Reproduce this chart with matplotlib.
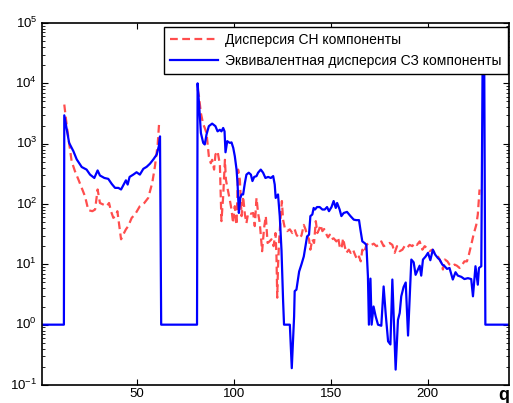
import numpy as np
import matplotlib
matplotlib.use('Agg')
import matplotlib.pyplot as plt
from matplotlib.ticker import LogLocator, FixedLocator, NullFormatter

# blue: equivalent dispersion (C3 component)
blue_q = [1, 12.3, 12.5, 13.8, 15, 17.2, 18.9, 21.5, 24, 25.8, 28, 29.7, 30.9, 33.2,
          35.2, 37, 38.7, 40.4, 41.8, 42.9, 44.3, 45.2, 46.2, 48.1, 49.8, 51.5, 53.3,
          55, 56.7, 58.4, 60.2, 61.3, 61.9, 62.5, 81.0, 81.3, 82, 83, 84.2, 85, 85.9,
          87.1, 88.8, 90.5, 91.6, 92.8, 93.6, 94.5, 95.2, 95.7, 96.6, 97.9, 98.8, 99.7,
          100.5, 101.4, 101.9, 102.6, 103.3, 104, 104.8, 105.7, 106.5, 107.7, 108.8,
          109.6, 110.5, 111.7, 112.5, 113.9, 115.1, 116.3, 117.7, 119.1, 120.3, 121.1,
          121.6, 122.8, 123.7, 124.6, 125.4, 125.9, 128.9, 129.9, 131.1, 131.4, 132.3,
          133.7, 134.9, 136.1, 137.1, 137.8, 138.8, 139.5, 140.5, 141.2, 141.9, 142.9,
          144.3, 145.7, 146.9, 148.1, 149.1, 150.4, 151.5, 152.6, 153.3, 154.6, 155.5,
          156.7, 158.4, 160.2, 161.9, 163.2, 164.6, 165.3, 166.3, 167.5, 168.4, 169.2,
          169.7, 170.5, 171.1, 172.1, 173.2, 174.4, 176.1, 177.3, 178.4, 179.6, 180.8,
          181.8, 182.6, 183.5, 184.7, 185.6, 186.4, 187.6, 188.7, 189.9, 190.7, 191.6,
          192.8, 193.8, 195, 195.9, 196.7, 197.6, 199, 200.2, 201.4, 202.7, 203.9,
          205.3, 206.2, 207.6, 208.8, 210, 211.3, 213, 214.4, 215.6, 217.4, 219, 220.8,
          222.5, 223.4, 224.7, 225.9, 226.5, 227.7, 228.4, 229.2, 229.8, 242]
blue_v = [1, 1, 2950, 1700, 1030, 750, 550, 410, 372, 307, 270, 360, 297, 270,
          261, 215, 185, 185, 174, 203, 247, 210, 281, 307, 336, 307, 383,
          413, 465, 545, 660, 910, 1320, 1, 1, 10000, 4800, 1500, 1030, 970, 1420,
          1950, 2150, 1950, 1600, 1700, 1600, 1820, 1600, 720, 1100, 1030, 1050, 850,
          620, 372, 224, 71, 126, 144, 144, 224, 307, 330, 307,
          240, 281, 290, 330, 372, 330, 270, 281, 270, 290, 210,
          126, 144, 63, 17, 2.6, 1, 1, 0.19, 1.37, 3.6, 3.8,
          7.6, 10, 13.5, 21, 29, 31, 63, 67, 86, 81, 89,
          89, 81, 81, 89, 76, 89, 112, 86, 104, 81, 63,
          71, 74, 63, 55, 54, 54, 38, 24, 22.5, 21, 6.3,
          1, 5.8, 1, 2, 1.37, 1, 0.96, 4.3, 1.46, 0.53, 0.47,
          5.6, 1.07, 0.18, 1.2, 1.56, 2.95, 4.2, 5, 0.66, 2.6, 12,
          10.8, 6.7, 8.2, 9.5, 6.5, 12, 13.5, 15.5, 11.7, 17.5, 14.5,
          12.7, 12, 9.9, 9.3, 8.4, 8.7, 5.6, 7.4, 6.5, 6.2, 5.7, 5.9,
          5.7, 2.95, 9.3, 4.6, 8.7, 9.3, 30000, 30000, 1, 1]

# red: CH component dispersion (gap where not defined)
red_q = [12.5, 13.8, 15, 16.3, 18, 19.8, 21.5, 23.2, 24.9, 27, 28.4, 29.7, 30.9, 32.6,
         34.4, 35.6, 36.6, 37.8, 39, 39.9, 40.9, 41.8, 42.9, 44.3, 45.5, 47.3, 49,
         51.5, 53.8, 55.8, 57.9, 59.3, 60.7, 61.5, 70,
         81.3, 82, 83, 84.2, 85, 85.9, 87.1, 88.1, 88.8, 89.8, 90.5, 91.6, 92.8, 93.6,
         94.5, 95.4, 95.9, 96.7, 97.9, 98.8, 99.6, 100.5, 101.4, 102.2, 103.1, 104,
         104.8, 105.7, 106.5, 107.4, 108.8, 110, 110.8, 111.7, 112.5, 113.4, 114.6,
         115.6, 116.5, 117.4, 118.4, 119.4, 120.5, 121.5, 122, 122.4, 122.8, 123.4,
         124.2, 124.8, 125.4, 126.3, 127.5, 128.9, 130.2, 131.4, 132.3, 133.7, 134.9,
         136.1, 137, 137.8, 138.8, 139.5, 140.5, 141.4, 142.3, 143.1, 144, 144.7,
         145.7, 146.6, 147.4, 148.6, 149.5, 150.4, 151.5, 152.9, 153.8, 154.6, 155.5,
         156.4, 157.2, 158.1, 159.3, 160.3, 161.5, 162.5, 163.6, 164.6, 165.5, 166.3,
         167.2, 168.4, 169.7, 171, 172.2, 173.6, 174.9, 176.1, 177.3, 178.7, 180.4,
         181.8, 183, 184.2, 185.6, 187, 188.1, 189.3, 190.7, 192.1, 193.3, 194.5,
         195.9, 197.3, 198.5, 199.6, 201, 202.4, 203.6, 204.8, 205.8, 207.1, 207.9,
         208.9, 210.2, 211.3, 212.7, 213.9, 215.1, 216.5, 217.9, 219, 220.3, 221.3,
         222.5, 223.7, 225.1, 225.9, 226.4, 226.8]
red_v = [4450, 1950, 1030, 510, 350, 254, 185, 134, 79, 76, 81, 174, 104, 98,
         92, 104, 76, 59, 63, 76, 43, 26, 31, 38, 43, 59, 67,
         92, 104, 126, 224, 425, 975, 2350, np.nan,
         8000, 6100, 3200, 2100, 1820, 1500, 620, 475, 540, 372, 660, 750, 450, 52,
         134, 540, 254, 185, 118, 81, 48, 92, 45, 372, 254, 63,
         134, 67, 48, 71, 69, 71, 43, 126, 71, 48, 16.5,
         40, 63, 22.6, 24, 26, 20, 33, 13.6, 2.8, 9.3, 26,
         63, 112, 55, 40, 35.5, 38, 33, 38, 31, 27, 30,
         45, 38, 30, 26, 17.5, 26, 22.6, 52, 33, 38, 45,
         35.5, 38.5, 33, 28, 31, 26, 27, 24, 28, 20, 18,
         27, 20, 15.5, 17.5, 15.5, 17.5, 14.5, 12, 13.5, 11.2, 17.5,
         15.5, 21, 22.6, 21, 22, 20, 21, 24, 20, 21, 22.6,
         21, 15.5, 20, 16.5, 17.5, 20, 18.6, 21, 20, 22.6, 21,
         24, 17.5, 20, 18.6, 16.5, 17.5, 15.5, 14.5, 12.7, 10.5, 8.2,
         12, 11.2, 9.9, 9.3, 9.9, 9.5, 8.7, 9.9, 11.2, 11.2, 14.5,
         21, 31, 45, 67, 118, 174]

x_ticks = [50, 100, 150, 200]
y_ticks = [0.1, 1, 10, 100, 1000, 10000, 100000]
labels = ['Дисперсия СН компоненты', 'Эквивалентная дисперсия СЗ компоненты']

plt.rcParams['font.family'] = ['Liberation Sans', 'DejaVu Sans']
plt.rcParams['mathtext.fontset'] = 'custom'
plt.rcParams['mathtext.rm'] = 'Liberation Sans'
plt.rcParams['mathtext.it'] = 'Liberation Sans'

fig = plt.figure(figsize=(5.13, 4.03), dpi=100)
ax = fig.add_axes([42 / 513, 18 / 403, 467 / 513, 362 / 403])

ax.plot(red_q, red_v, color='#ff4d4d', lw=1.6, ls=(0, (3.5, 2)), label=labels[0])
ax.plot(blue_q, blue_v, color='#0000ff', lw=1.6, label=labels[1])

ax.set_yscale('log')
ax.set_xlim(1, 242)
ax.set_ylim(0.1, 1e5)
ax.xaxis.set_major_locator(FixedLocator(x_ticks))
ax.yaxis.set_major_locator(FixedLocator(y_ticks))
ax.yaxis.set_minor_locator(LogLocator(base=10, subs=np.arange(2, 10), numticks=20))
ax.yaxis.set_minor_formatter(NullFormatter())
ax.tick_params(which='both', direction='in', top=True, right=True, labelsize=9.5)
ax.tick_params(axis='x', pad=2)
ax.tick_params(which='major', length=4, width=0.8)
ax.tick_params(which='minor', length=2.5, width=0.6)
for s in ax.spines.values():
    s.set_linewidth(1.2)

leg = ax.legend(loc='upper right', bbox_to_anchor=(0.998, 0.989), borderaxespad=0,
                fontsize=10, fancybox=False, framealpha=1, edgecolor='black',
                handlelength=3.5, handletextpad=0.5, borderpad=0.45, labelspacing=0.5)
leg.get_frame().set_linewidth(1.0)

fig.text(504 / 513, 1 - 395 / 403, 'q', fontsize=13, fontweight='bold', ha='center', va='center')

fig.canvas.draw()
for t in ax.get_yticklabels():
    t.set_va('center')

fig.savefig('out.png', dpi=100)
